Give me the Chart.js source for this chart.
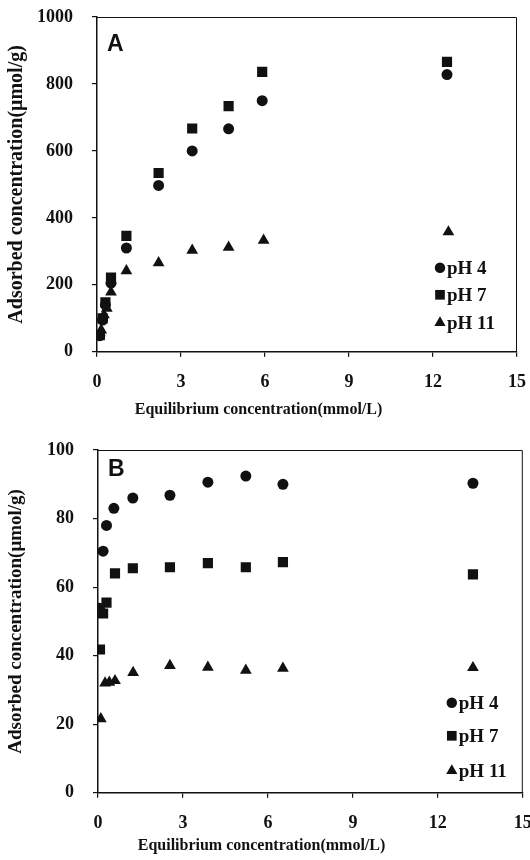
<!DOCTYPE html>
<html>
<head>
<meta charset="utf-8">
<script src="https://cdn.jsdelivr.net/npm/chart.js@4.4.1/dist/chart.umd.min.js"></script>
<style>
  html, body { margin: 0; padding: 0; background: #fff; }
  .panel { position: relative; width: 530px; height: 430px; }
</style>
</head>
<body>
<div class="panel"><canvas id="chartA"></canvas></div>
<div class="panel"><canvas id="chartB"></canvas></div>
<script>
// tick labels
const xTicks = [0, 3, 6, 9, 12, 15];
const yTicksA = [0, 200, 400, 600, 800, 1000];
const yTicksB = [0, 20, 40, 60, 80, 100];
const seriesNames = ["pH 4", "pH 7", "pH 11"];

// panel A
const aPh4X = [0.1, 0.2, 0.3, 0.5, 1.05, 2.2, 3.4, 4.7, 5.9, 12.5];
const aPh4Y = [48, 95, 140, 205, 310, 497, 600, 666, 750, 828];
const aPh7X = [0.1, 0.2, 0.3, 0.5, 1.05, 2.2, 3.4, 4.7, 5.9, 12.5];
const aPh7Y = [50, 100, 148, 222, 346, 534, 667, 734, 836, 866];
const aPh11X = [0.15, 0.25, 0.35, 0.5, 1.05, 2.2, 3.4, 4.7, 5.95, 12.55];
const aPh11Y = [65, 110, 130, 178, 242, 266, 303, 312, 333, 358];

// panel B
const bPh4X = [0.05, 0.18, 0.3, 0.56, 1.23, 2.54, 3.88, 5.22, 6.53, 13.24];
const bPh4Y = [53.8, 70.5, 78, 83, 86, 86.8, 90.6, 92.4, 90, 90.3];
const bPh7X = [0.07, 0.18, 0.3, 0.6, 1.23, 2.54, 3.88, 5.22, 6.53, 13.24];
const bPh7Y = [41.8, 52.3, 55.5, 64, 65.5, 65.8, 67, 65.8, 67.3, 63.7];
const bPh11X = [0.1, 0.25, 0.4, 0.6, 1.24, 2.54, 3.88, 5.22, 6.53, 13.24];
const bPh11Y = [21.6, 32, 32.2, 32.7, 35.1, 37.1, 36.6, 35.7, 36.3, 36.5];

const INK = "#111";
const SERIF = "'Liberation Serif', 'Times New Roman', serif";

const styles = [
  { pointStyle: "circle", pointRadius: 5.5 },
  { pointStyle: "rect", pointRadius: 7.2 },
  { pointStyle: "triangle", pointRadius: 6.8 },
];

function toPoints(xs, ys) {
  return xs.map((x, i) => ({ x: x, y: ys[i] }));
}

function drawMarker(ctx, style, x, y, r) {
  ctx.beginPath();
  if (style === "circle") {
    ctx.arc(x, y, r, 0, Math.PI * 2);
  } else if (style === "rect") {
    const s = r * Math.SQRT1_2;
    ctx.rect(x - s, y - s, s * 2, s * 2);
  } else {
    const w = r * Math.sqrt(3) / 2;
    ctx.moveTo(x, y - r);
    ctx.lineTo(x + w, y + r / 2);
    ctx.lineTo(x - w, y + r / 2);
    ctx.closePath();
  }
  ctx.fill();
}

// frame, panel letter and the legend inside the plot
const framePlugin = {
  id: "frame",
  afterDraw(chart, args, opts) {
    const { ctx, chartArea: a } = chart;
    ctx.save();
    ctx.strokeStyle = INK;
    ctx.lineWidth = 1;
    ctx.beginPath();
    ctx.moveTo(a.left, a.top + 0.5);
    ctx.lineTo(a.right - 0.5, a.top + 0.5);
    ctx.lineTo(a.right - 0.5, a.bottom);
    ctx.stroke();

    ctx.fillStyle = INK;
    ctx.font = "bold 23px 'Liberation Sans', Arial, sans-serif";
    ctx.textBaseline = "middle";
    ctx.textAlign = "left";
    ctx.fillText(opts.letter, a.left + 10, a.top + opts.letterDy);

    ctx.font = "bold 19px " + SERIF;
    chart.data.datasets.forEach((ds, i) => {
      const y = a.bottom - opts.rows[i];
      const mx = a.right - opts.legendDx;
      drawMarker(ctx, ds.pointStyle, mx, y, ds.pointRadius * 0.95);
      ctx.fillText(ds.label, mx + 7, y + 1);
    });
    ctx.restore();
  },
};

function makeChart(id, sets, yTicks, pad, extra) {
  const datasets = sets.map((s, i) => ({
    label: seriesNames[i],
    data: toPoints(s[0], s[1]),
    backgroundColor: INK,
    borderColor: INK,
    borderWidth: 0,
    pointStyle: styles[i].pointStyle,
    pointRadius: styles[i].pointRadius,
    showLine: false,
  }));

  return new Chart(document.getElementById(id), {
    type: "scatter",
    data: { datasets: datasets },
    options: {
      responsive: true,
      maintainAspectRatio: false,
      animation: false,
      layout: { padding: { left: 0, top: pad.top, right: pad.right, bottom: 0 } },
      plugins: {
        legend: { display: false },
        tooltip: { enabled: false },
        title: {
          display: true,
          position: "bottom",
          text: "Equilibrium concentration(mmol/L)",
          color: INK,
          font: { family: SERIF, size: 16, weight: "bold" },
          padding: { top: 0, bottom: pad.titleBottom },
        },
        frame: extra,
      },
      scales: {
        x: {
          type: "linear",
          min: xTicks[0],
          max: xTicks[xTicks.length - 1],
          afterBuildTicks: (scale) => {
            scale.ticks = xTicks.map((v) => ({ value: v }));
          },
          afterFit: (scale) => {
            scale.height = pad.xHeight;
            scale.paddingLeft = 0;
            scale.paddingRight = 0;
          },
          ticks: {
            color: INK,
            padding: 15,
            callback: (v) => String(v),
            font: { family: SERIF, size: 18, weight: "bold" },
          },
          grid: { display: true, drawOnChartArea: false, tickLength: 5, color: INK, lineWidth: 1.2 },
          border: { display: true, color: INK, width: 1.5 },
        },
        y: {
          type: "linear",
          min: yTicks[0],
          max: yTicks[yTicks.length - 1],
          afterBuildTicks: (scale) => {
            scale.ticks = yTicks.map((v) => ({ value: v }));
          },
          afterFit: (scale) => {
            scale.width = pad.left;
            scale.paddingTop = 0;
            scale.paddingBottom = 0;
          },
          title: {
            display: true,
            text: "Adsorbed concentration(μmol/g)",
            color: INK,
            font: { family: SERIF, size: pad.yTitleSize, weight: "bold" },
            padding: { top: 5, bottom: 0 },
          },
          ticks: {
            color: INK,
            padding: 19,
            callback: (v) => String(v),
            font: { family: SERIF, size: 18, weight: "bold" },
          },
          grid: { display: true, drawOnChartArea: false, tickLength: 5, color: INK, lineWidth: 1.2 },
          border: { display: true, color: INK, width: 1.5 },
        },
      },
    },
    plugins: [framePlugin],
  });
}

makeChart(
  "chartA",
  [[aPh4X, aPh4Y], [aPh7X, aPh7Y], [aPh11X, aPh11Y]],
  yTicksA,
  { top: 17, right: 13, left: 97, xHeight: 48, titleBottom: 11, yTitleSize: 20 },
  { letter: "A", letterDy: 28, legendDx: 77, rows: [84, 57, 29] }
);

makeChart(
  "chartB",
  [[bPh4X, bPh4Y], [bPh7X, bPh7Y], [bPh11X, bPh11Y]],
  yTicksB,
  { top: 20, right: 7, left: 98, xHeight: 43, titleBottom: 5, yTitleSize: 19 },
  { letter: "B", letterDy: 20, legendDx: 71, rows: [90, 57, 22] }
);
</script>
</body>
</html>
